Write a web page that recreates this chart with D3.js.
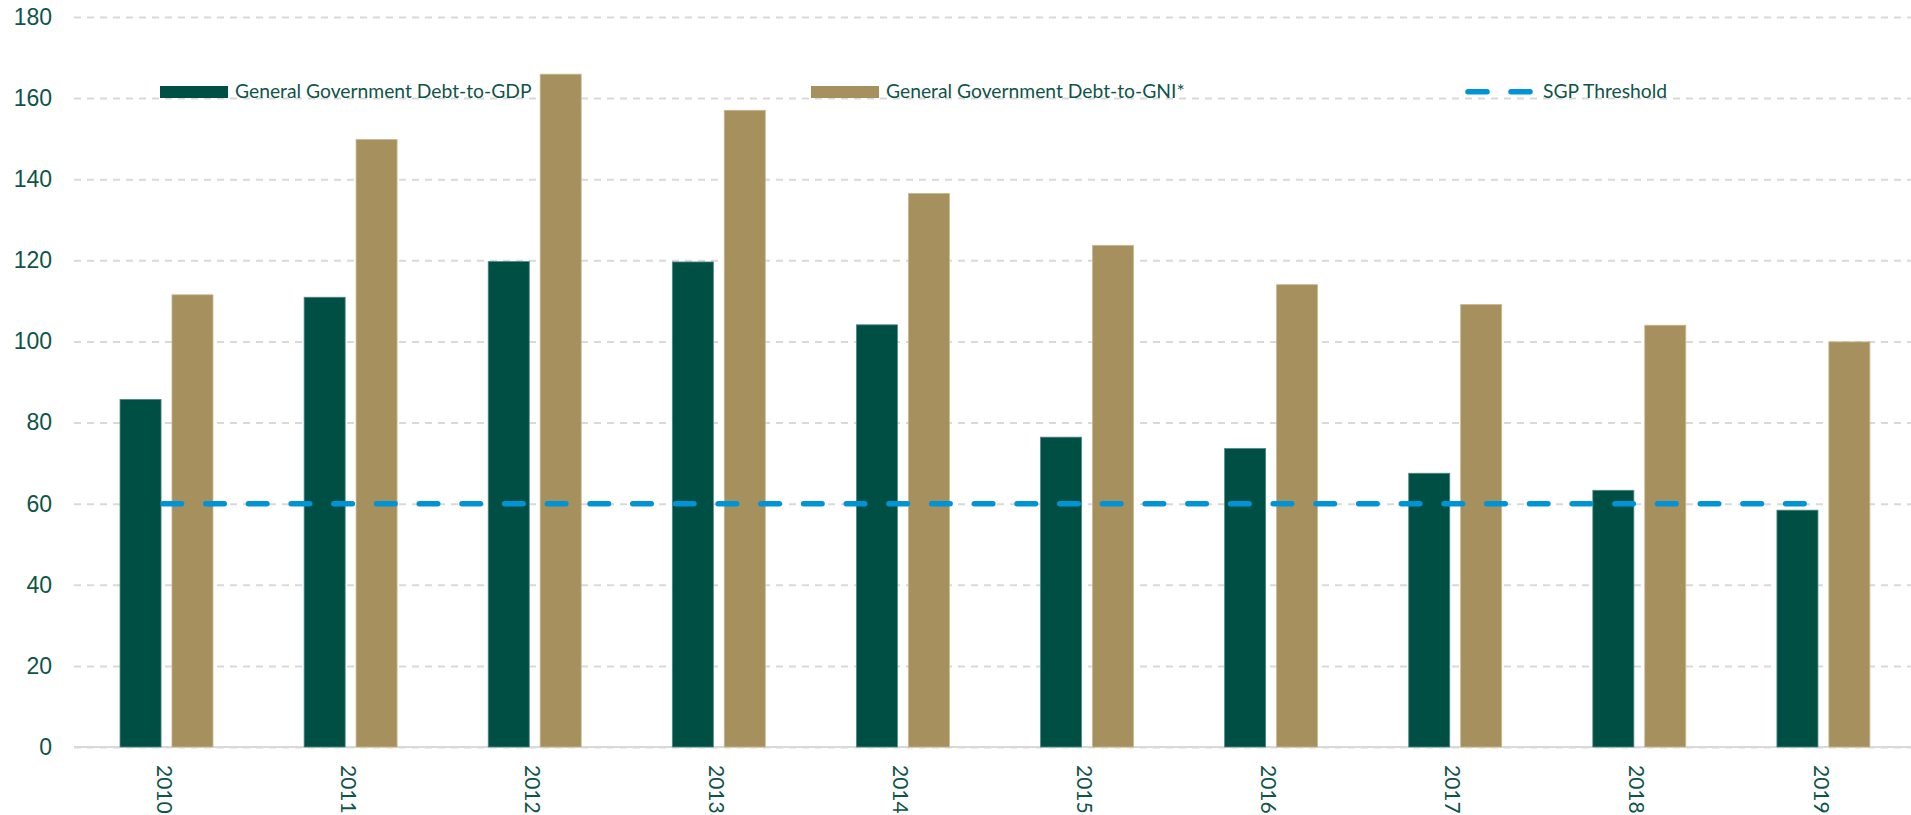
<!DOCTYPE html>
<html>
<head>
<meta charset="utf-8">
<script src="https://cdn.jsdelivr.net/npm/d3@7"></script>
<style>
  body { margin: 0; background: #fff; }
  svg { display: block; font-family: Lato, "Liberation Sans", sans-serif; }
</style>
</head>
<body>
<div class="debt_container"></div>
<script>
// data
var years = ["2010", "2011", "2012", "2013", "2014", "2015", "2016", "2017", "2018", "2019"];
var debtToGdp = [85.7, 110.9, 119.7, 119.6, 104.1, 76.4, 73.6, 67.5, 63.3, 58.4];
var debtToGni = [111.5, 149.8, 165.9, 157.0, 136.5, 123.7, 114.0, 109.1, 104.0, 99.9];
var sgpThreshold = [60, 60, 60, 60, 60, 60, 60, 60, 60, 60];
var seriesNames = ["General Government Debt-to-GDP", "General Government Debt-to-GNI*", "SGP Threshold"];
var yTicks = [0, 20, 40, 60, 80, 100, 120, 140, 160, 180];

var w = 1911, h = 815;
var p_left = 74, p_right = 1915, p_top = 17, p_bottom = 747;
var textCol = "#0f5449";
var green = "#004f44", gold = "#a5905e", blue = "#0093d6";

var svg = d3.select('.debt_container')
    .append('svg')
    .attr('width', w)
    .attr('height', h);

//x scale, one band per year
var x_scale = d3.scaleBand()
    .domain(years)
    .range([p_left, p_right]);
var bw = x_scale.bandwidth();
//inner scale for the two bars
var x_inner = d3.scaleBand()
    .domain([0, 1])
    .range([bw * 0.25, bw * 0.755])
    .paddingInner(0.21);

var y_scale = d3.scaleLinear()
    .domain([0, 180])
    .range([p_bottom, p_top]);

//y axis + dashed gridlines
var y_axis = d3.axisLeft(y_scale)
    .tickValues(yTicks)
    .tickSize(-(w - p_left))
    .tickPadding(22);
var yg = svg.append('g')
    .attr('class', 'y_axis')
    .attr('transform', 'translate(' + p_left + ',0)')
    .call(y_axis);
yg.select('.domain').remove();
yg.selectAll('.tick line')
    .attr('stroke', '#d9d9d9')
    .attr('stroke-width', 2)
    .style('stroke-dasharray', '7,6');
yg.selectAll('.tick text')
    .attr('fill', textCol)
    .style('font-size', '23px');

//baseline
svg.append('line')
    .attr('x1', p_left).attr('x2', w)
    .attr('y1', y_scale(0)).attr('y2', y_scale(0))
    .attr('stroke', '#d9d9d9')
    .attr('stroke-width', 2);

//x labels, rotated
svg.append('g')
    .selectAll('text')
    .data(years)
    .enter()
    .append('text')
    .attr('transform', function(d){ return 'translate(' + (x_scale(d) + bw/2 - 2) + ',' + (y_scale(0) + 18) + ') rotate(90)'; })
    .attr('dy', '0.35em')
    .style('text-anchor', 'start')
    .style('font-size', '21px')
    .attr('fill', textCol)
    .text(function(d){ return d; });

//bars
var groups = svg.selectAll('.year')
    .data(years)
    .enter()
    .append('g')
    .attr('class', 'year')
    .attr('transform', function(d){ return 'translate(' + x_scale(d) + ',0)'; });

groups.append('rect')
    .attr('x', x_inner(0))
    .attr('width', x_inner.bandwidth())
    .attr('y', function(d, i){ return y_scale(debtToGdp[i]); })
    .attr('height', function(d, i){ return y_scale(0) - y_scale(debtToGdp[i]); })
    .attr('fill', green)
    .attr('stroke', '#4f8a80')
    .attr('stroke-width', 0.8);

groups.append('rect')
    .attr('x', x_inner(1))
    .attr('width', x_inner.bandwidth())
    .attr('y', function(d, i){ return y_scale(debtToGni[i]); })
    .attr('height', function(d, i){ return y_scale(0) - y_scale(debtToGni[i]); })
    .attr('fill', gold)
    .attr('stroke', '#c9b98f')
    .attr('stroke-width', 0.8);

//SGP threshold line
var line = d3.line()
    .x(function(d, i){ return x_scale(years[i]) + bw/2 - 3; })
    .y(function(d){ return y_scale(d); });
svg.append('path')
    .datum(sgpThreshold)
    .attr('d', line)
    .attr('fill', 'none')
    .attr('stroke', blue)
    .attr('stroke-width', 5.5)
    .attr('stroke-linecap', 'round')
    .style('stroke-dasharray', '18.5,24.2');

//legend
var legend = svg.append('g').attr('class', 'legend');
legend.append('rect')
    .attr('x', 160).attr('y', 86).attr('width', 68).attr('height', 12)
    .attr('fill', green);
legend.append('text')
    .attr('x', 235).attr('y', 97.5)
    .attr('fill', textCol).style('font-size', '19.3px')
    .text(seriesNames[0]);
legend.append('rect')
    .attr('x', 811).attr('y', 86).attr('width', 68).attr('height', 12)
    .attr('fill', gold);
legend.append('text')
    .attr('x', 886).attr('y', 97.5)
    .attr('fill', textCol).style('font-size', '19.3px')
    .text(seriesNames[1]);
legend.append('path')
    .attr('d', d3.line()([[1468, 91.7], [1530, 91.7]]))
    .attr('stroke', blue)
    .attr('stroke-width', 5.5)
    .attr('stroke-linecap', 'round')
    .style('stroke-dasharray', '19,24');
legend.append('text')
    .attr('x', 1543).attr('y', 97.5)
    .attr('fill', textCol).style('font-size', '19.3px')
    .text(seriesNames[2]);
</script>
</body>
</html>
